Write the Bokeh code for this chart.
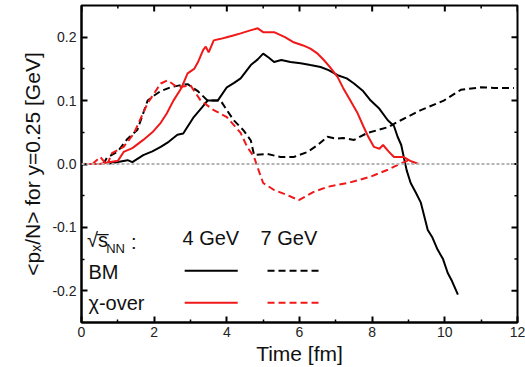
import math
from bokeh.plotting import figure
from bokeh.models import Span, Label, FixedTicker, PrintfTickFormatter, Range1d
from bokeh.embed import file_html
from bokeh.resources import INLINE

# ---------------- data ----------------
t_bm4 = [0.7, 1.0, 1.27, 1.4, 1.7, 1.95, 2.18, 2.4, 2.64, 2.8, 3.09, 3.3, 3.47, 3.75, 4.0,
         4.2, 4.38, 4.66, 4.85, 5.0, 5.15, 5.3, 5.5, 5.75, 6.03, 6.3, 6.58, 6.8, 7.05, 7.3,
         7.5, 7.75, 7.96, 8.2, 8.43, 8.6, 8.7, 8.8, 8.87, 8.95, 9.06, 9.2, 9.34, 9.53, 9.65,
         9.8, 9.95, 10.08, 10.2, 10.36]
y_bm4 = [0.0, 0.003, 0.006, 0.003, 0.014, 0.02, 0.027, 0.035, 0.046, 0.048, 0.074, 0.088,
         0.10, 0.10, 0.121, 0.128, 0.135, 0.156, 0.165, 0.174, 0.168, 0.161, 0.164, 0.161,
         0.159, 0.156, 0.153, 0.148, 0.14, 0.135, 0.127, 0.115, 0.10, 0.087, 0.069, 0.06,
         0.043, 0.03, 0.011, -0.01, -0.03, -0.045, -0.061, -0.104, -0.115, -0.135, -0.15,
         -0.172, -0.185, -0.206]

t_bm7 = [0.6, 0.7, 1.0, 1.27, 1.54, 1.82, 2.0, 2.18, 2.45, 2.7, 2.92, 3.2, 3.47, 3.83, 4.0,
         4.19, 4.46, 4.66, 4.75, 5.1, 5.48, 5.84, 6.22, 6.5, 6.77, 7.0, 7.2, 7.5, 7.87, 8.43,
         8.79, 9.34, 9.97, 10.44, 10.99, 11.36, 11.9]
y_bm7 = [0.0, 0.01, 0.02, 0.04, 0.054, 0.10, 0.108, 0.115, 0.121, 0.124, 0.126, 0.115, 0.10,
         0.10, 0.085, 0.069, 0.053, 0.037, 0.014, 0.016, 0.011, 0.011, 0.019, 0.03, 0.043,
         0.04, 0.041, 0.038, 0.049, 0.058, 0.069, 0.085, 0.10, 0.117, 0.121, 0.12, 0.12]

t_x4 = [0.0, 0.5, 0.8, 1.0, 1.16, 1.4, 1.7, 1.95, 2.18, 2.35, 2.53, 2.75, 2.92, 3.1, 3.2,
        3.35, 3.42, 3.5, 3.64, 3.8, 4.0, 4.2, 4.38, 4.6, 4.85, 5.0, 5.3, 5.6, 5.84, 6.1, 6.3,
        6.5, 6.67, 6.85, 7.05, 7.2, 7.4, 7.6, 7.77, 7.9, 8.05, 8.2, 8.3, 8.45, 8.6, 8.87,
        9.05, 9.28]
y_x4 = [0.0, 0.0, 0.003, 0.005, 0.019, 0.025, 0.038, 0.05, 0.065, 0.08, 0.10, 0.12, 0.143,
        0.15, 0.16, 0.18, 0.185, 0.176, 0.195, 0.197, 0.2, 0.203, 0.206, 0.21, 0.214, 0.208,
        0.208, 0.2, 0.192, 0.187, 0.182, 0.174, 0.164, 0.152, 0.137, 0.12, 0.10, 0.08, 0.058,
        0.042, 0.027, 0.024, 0.03, 0.02, 0.011, 0.011, 0.005, 0.0]

t_x7 = [0.0, 0.3, 0.52, 0.7, 0.84, 1.16, 1.44, 1.82, 2.18, 2.37, 2.64, 3.0, 3.28, 3.64, 4.0,
        4.38, 4.56, 4.75, 4.85, 5.0, 5.3, 5.66, 5.98, 6.39, 6.77, 7.33, 7.96, 8.43, 8.79,
        8.97, 9.15]
y_x7 = [0.0, 0.0, 0.011, -0.002, 0.017, 0.027, 0.048, 0.096, 0.127, 0.132, 0.121, 0.124,
        0.10, 0.085, 0.074, 0.049, 0.027, 0.011, -0.006, -0.03, -0.041, -0.049, -0.057,
        -0.044, -0.036, -0.03, -0.02, -0.009, 0.001, 0.005, 0.0]

x_min, x_max = 0, 12
y_min, y_max = -0.25, 0.25
x_ticks = [0, 2, 4, 6, 8, 10, 12]
x_minor = [1, 3, 5, 7, 9, 11]
y_ticks = [-0.2, -0.1, 0.0, 0.1, 0.2]
y_minor = [-0.15, -0.05, 0.05, 0.15]

FONT = "Liberation Sans"
RED = "#f01818"

p = figure(width=525, height=367, output_backend="svg", toolbar_location=None,
           x_range=Range1d(x_min, x_max), y_range=Range1d(y_min, y_max),
           min_border_left=81, min_border_right=8, min_border_top=5, min_border_bottom=44)
p.xgrid.visible = False
p.ygrid.visible = False
p.outline_line_color = "black"
p.outline_line_width = 2
p.background_fill_color = "white"


def style_axis(ax, ticks, minor):
    ax.ticker = FixedTicker(ticks=ticks, minor_ticks=minor)
    ax.axis_line_color = "black"
    ax.axis_line_width = 2
    ax.major_tick_in = 6
    ax.major_tick_out = 0
    ax.minor_tick_in = 3
    ax.minor_tick_out = 0
    ax.major_tick_line_width = 2
    ax.minor_tick_line_width = 1.5
    ax.major_tick_line_color = "black"
    ax.minor_tick_line_color = "black"
    ax.major_label_text_font = FONT
    ax.major_label_text_font_size = "14px"
    ax.major_label_text_color = "#222222"
    ax.axis_label_text_font = FONT
    ax.axis_label_text_font_size = "21px"
    ax.axis_label_text_font_style = "normal"
    ax.axis_label_text_color = "#111111"


style_axis(p.xaxis[0], x_ticks, x_minor)
style_axis(p.yaxis[0], y_ticks, y_minor)
p.xaxis[0].axis_label = "Time [fm]"
p.xaxis[0].axis_label_standoff = 2
p.xaxis[0].major_label_standoff = 4
p.yaxis[0].axis_label = "<p\u2093/N> for y=0.25 [GeV]"
p.yaxis[0].formatter = PrintfTickFormatter(format="%.1f")
p.yaxis[0].major_label_standoff = 5
p.yaxis[0].axis_label_standoff = 5

# inward ticks on the top and right frame edges (mirrors of the bottom/left axes)
p.scatter(x_ticks, [y_max] * len(x_ticks), marker="dash", size=12, angle=math.pi / 2,
          line_color="black", line_width=2)
p.scatter(x_minor, [y_max] * len(x_minor), marker="dash", size=6, angle=math.pi / 2,
          line_color="black", line_width=1.5)
p.scatter([x_max] * len(y_ticks), y_ticks, marker="dash", size=12,
          line_color="black", line_width=2)
p.scatter([x_max] * len(y_minor), y_minor, marker="dash", size=6,
          line_color="black", line_width=1.5)

p.add_layout(Span(location=0, dimension="width", line_color="#b4b4b4",
                  line_width=2, line_dash="3 2"))

p.line(t_bm4, y_bm4, line_color="black", line_width=2)
p.line(t_bm7, y_bm7, line_color="black", line_width=2, line_dash="7 4")
p.line(t_x4, y_x4, line_color=RED, line_width=2)
p.line(t_x7, y_x7, line_color=RED, line_width=2, line_dash="7 4")

# ---------------- legend block ----------------
leg_font = "20px"
def lab(x, y, text, size=leg_font, baseline="middle"):
    p.add_layout(Label(x=x, y=y, text=text, text_font=FONT, text_font_size=size,
                       text_baseline=baseline, text_color="#111111"))

lab(0.15, -0.12, "\u221as\u0305")
lab(0.68, -0.133, "NN", size="13px")
lab(1.36, -0.123, ":")
lab(2.78, -0.117, "4 GeV")
lab(4.93, -0.117, "7 GeV")
lab(0.19, -0.170, "BM")
lab(0.19, -0.219, "\u03c7-over")

leg_x_solid = [2.84, 4.30]
leg_x_dash = [5.12, 6.58]
p.line(leg_x_solid, [-0.1685, -0.1685], line_color="black", line_width=2)
p.line(leg_x_dash, [-0.1685, -0.1685], line_color="black", line_width=2, line_dash="7 4")
p.line(leg_x_solid, [-0.219, -0.219], line_color=RED, line_width=2)
p.line(leg_x_dash, [-0.219, -0.219], line_color=RED, line_width=2, line_dash="7 4")

open("out.html", "w").write(file_html(p, INLINE))
